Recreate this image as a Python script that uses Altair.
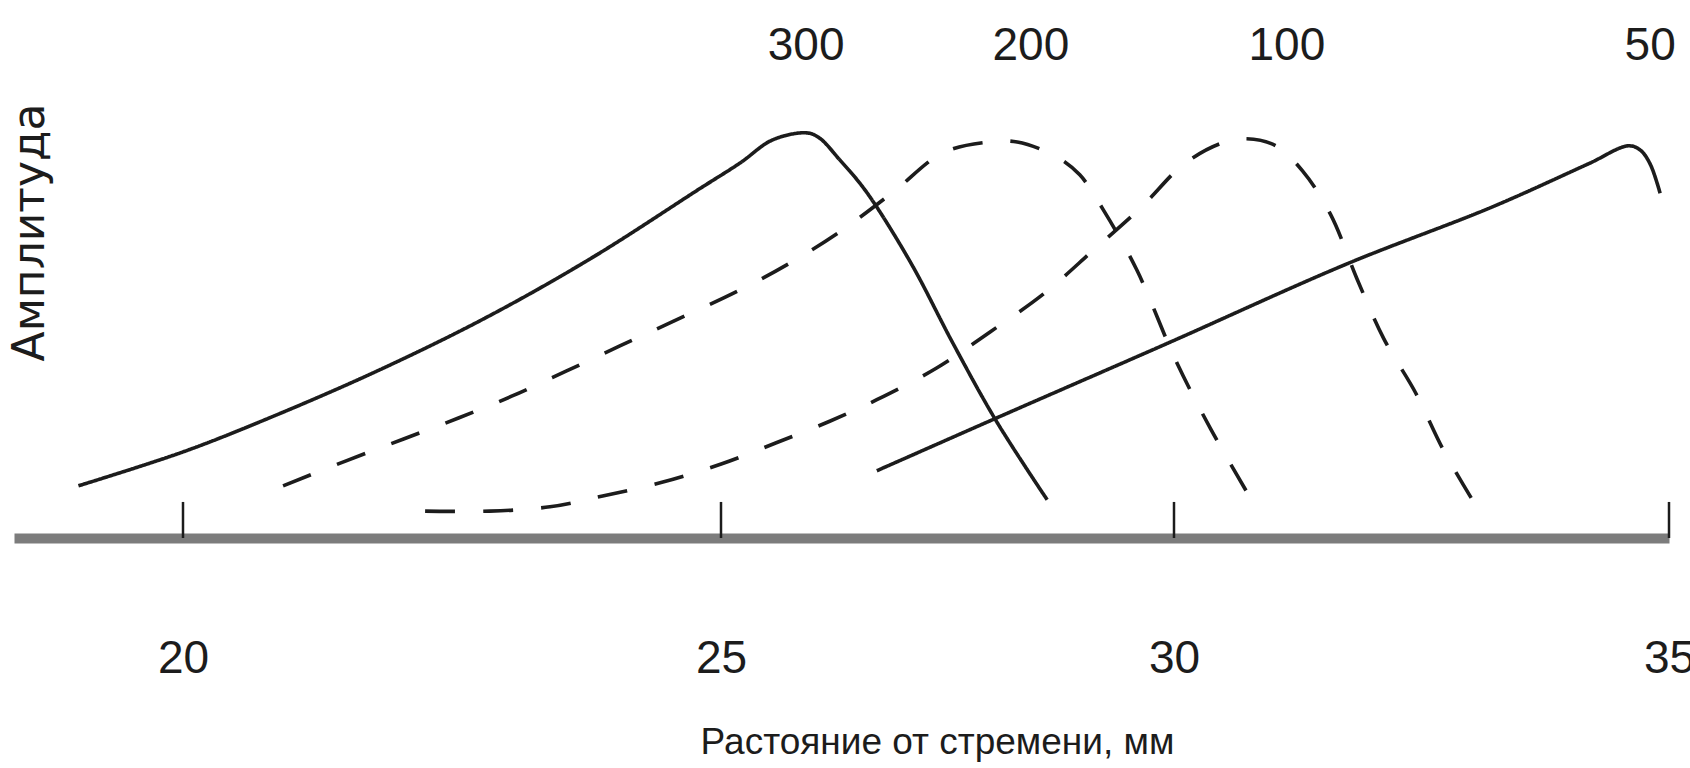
import altair as alt
import pandas as pd

# Travelling-wave envelopes along the basilar membrane:
# distance from the stapes (mm) and relative amplitude for each tone (Hz)
tones = ["300", "200", "100", "50"]

x_300 = [19.01, 20.00, 20.80, 21.80, 22.81, 23.81, 24.80, 25.21, 25.57, 25.95,
         26.09, 26.31, 26.53, 26.72, 27.12, 27.56, 28.04, 28.60]
a_300 = [0.97, 1.60, 2.23, 3.10, 4.09, 5.22, 6.49, 6.97, 7.40, 7.53,
         7.43, 7.03, 6.60, 6.15, 5.04, 3.62, 2.17, 0.71]

x_200 = [20.93, 21.51, 22.05, 22.56, 23.06, 23.56, 24.06, 24.56, 25.21, 25.76,
         26.31, 26.90, 27.45, 27.95, 28.27, 28.71, 28.96, 29.22, 29.59, 30.02,
         30.37, 30.76]
a_200 = [0.97, 1.43, 1.84, 2.23, 2.64, 3.10, 3.57, 4.03, 4.61, 5.11,
         5.69, 6.43, 7.16, 7.36, 7.36, 7.08, 6.75, 6.10, 4.98, 3.29,
         2.03, 0.78]

x_100 = [22.25, 22.85, 23.41, 23.90, 24.46, 25.01, 25.61, 26.20, 26.72, 27.38,
         27.97, 28.57, 29.11, 29.64, 30.10, 30.48, 30.73, 31.03, 31.30, 31.58,
         31.85, 32.12, 32.44, 32.72, 33.04]
a_100 = [0.50, 0.50, 0.58, 0.78, 1.04, 1.38, 1.77, 2.17, 2.57, 3.16,
         3.83, 4.55, 5.35, 6.15, 6.95, 7.34, 7.42, 7.29, 6.82, 6.02,
         4.81, 3.70, 2.70, 1.64, 0.63]

x_50 = [26.72, 28.04, 29.93, 31.74, 33.21, 34.18, 34.59, 34.71, 34.81, 34.91]
a_50 = [1.25, 2.23, 3.62, 5.09, 6.15, 6.95, 7.29, 7.21, 6.95, 6.41]

# frequency labels above the peaks
label_x = [25.94, 28.42, 31.14, 34.81]
label_amp = [9.14, 9.14, 9.14, 9.14]

# distance ticks
tick_values = [20, 25, 30, 35]
tick_len = 0.67

rows = []
for tone, xs, ys in [("300", x_300, a_300), ("200", x_200, a_200),
                     ("100", x_100, a_100), ("50", x_50, a_50)]:
    for i, (x, y) in enumerate(zip(xs, ys)):
        rows.append({"tone": tone, "mm": x, "amp": y, "order": i})
curves = pd.DataFrame(rows)
labels = pd.DataFrame({"mm": label_x, "amp": label_amp, "tone": tones})
ticks = pd.DataFrame({"mm": tick_values, "amp": [0] * 4, "amp1": [tick_len] * 4})

sans = "Liberation Sans"
ink = "#1c1c1c"

xscale = alt.Scale(domain=[18.4, 20, 25, 30, 35], range=[0, 169, 707, 1160, 1655],
                   nice=False, zero=False)
yscale = alt.Scale(domain=[0, 10], nice=False, zero=False)

xaxis = alt.Axis(
    values=tick_values, format="d", grid=False, ticks=False, tickSize=0,
    domainColor="#7c7c7c", domainWidth=10,
    labelFont=sans, labelFontSize=46, labelColor=ink,
    labelBaseline="middle", labelPadding=120, labelFlush=False,
    title="Растояние от стремени, мм", titleFont=sans, titleFontSize=37,
    titleFontWeight="normal", titleColor=ink,
    titleX=923, titleY=204, titleAlign="center", titleBaseline="middle",
)
yaxis = alt.Axis(
    labels=False, ticks=False, domain=False, grid=False,
    title="Амплитуда", titleFont="DejaVu Sans", titleFontSize=44,
    titleFontWeight="normal", titleColor=ink, titleAngle=270,
    titleX=16, titleY=232, titleAlign="center", titleBaseline="middle",
)

X = alt.X("mm:Q", scale=xscale, axis=xaxis)
Y = alt.Y("amp:Q", scale=yscale, axis=yaxis)

lines = alt.Chart(curves).mark_line(
    color=ink, strokeWidth=3.6, interpolate="catmull-rom"
).encode(
    x=X, y=Y,
    detail="tone:N",
    order="order:Q",
    strokeDash=alt.StrokeDash(
        "tone:N",
        scale=alt.Scale(domain=tones, range=[[1, 0], [30, 28], [30, 28], [1, 0]]),
        legend=None,
    ),
)

tick_marks = alt.Chart(ticks).mark_rule(color=ink, strokeWidth=2.5).encode(
    x=X, y=Y, y2="amp1:Q"
)

tone_labels = alt.Chart(labels).mark_text(
    font=sans, fontSize=46, color=ink, baseline="middle", align="center"
).encode(x=X, y=Y, text="tone:N")

chart = alt.layer(tick_marks, lines, tone_labels).properties(
    width=1655, height=538,
    autosize=alt.AutoSizeParams(type="none"),
    padding={"left": 14, "top": 0, "right": 21, "bottom": 230},
    background="white",
).configure_view(strokeOpacity=0)

chart.save("out.html", embed_options={"renderer": "svg", "actions": False})
